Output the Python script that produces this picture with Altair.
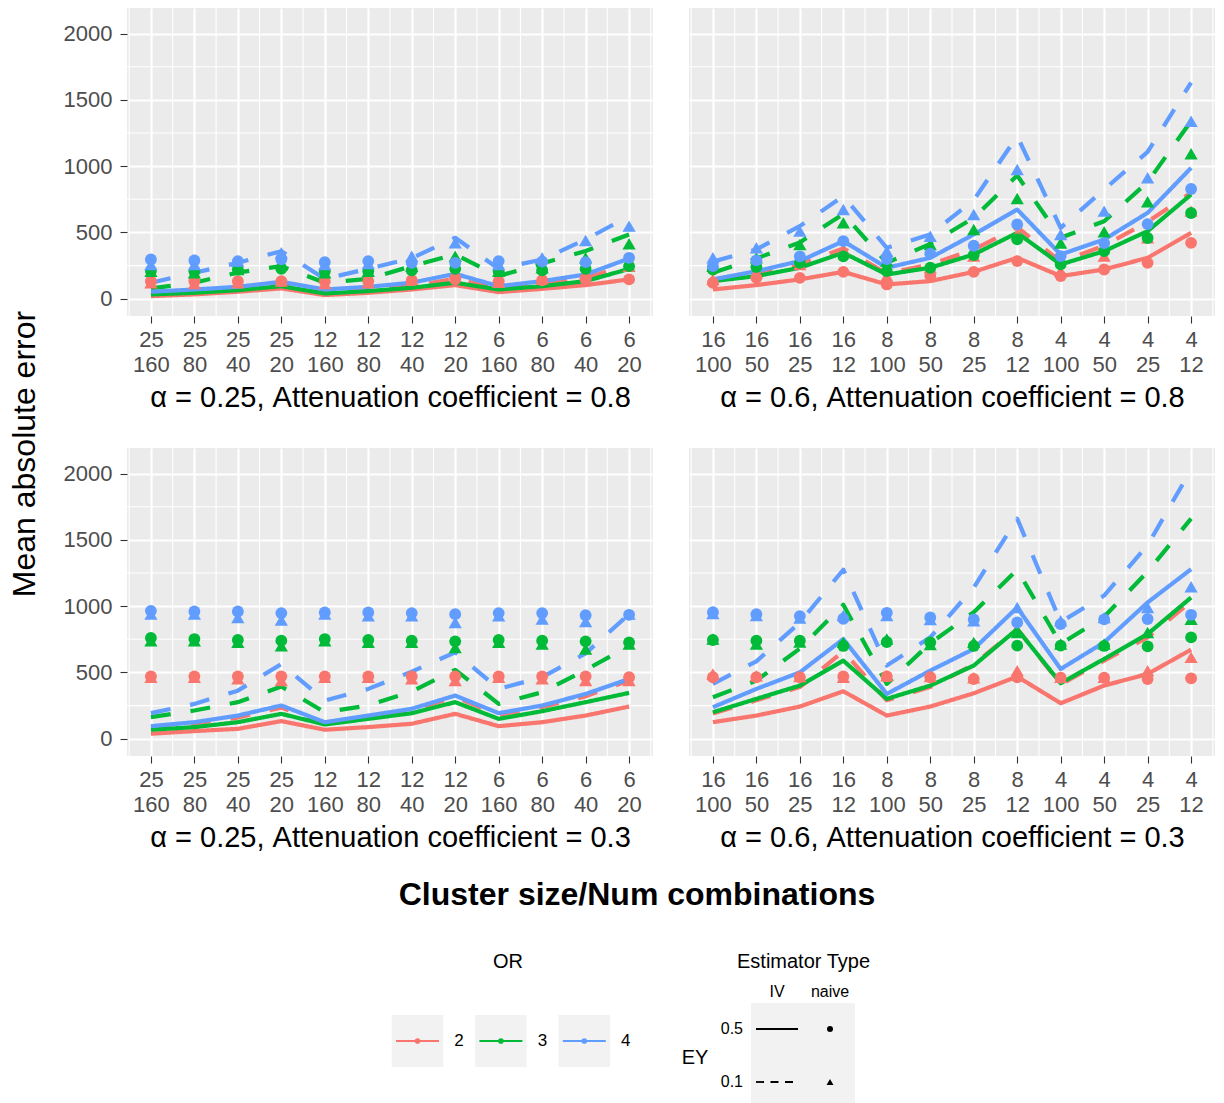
import json

import altair as alt
import pandas as pd

FONT = "Liberation Sans"

# x positions and their two-line labels (cluster size over number of combinations)
POSITIONS = list(range(1, 13))
CLUSTER_LEFT = ["25", "25", "25", "25", "12", "12", "12", "12", "6", "6", "6", "6"]
COMBOS_LEFT = ["160", "80", "40", "20", "160", "80", "40", "20", "160", "80", "40", "20"]
CLUSTER_RIGHT = ["16", "16", "16", "16", "8", "8", "8", "8", "4", "4", "4", "4"]
COMBOS_RIGHT = ["100", "50", "25", "12", "100", "50", "25", "12", "100", "50", "25", "12"]

OR_LEVELS = ["2", "3", "4"]
OR_COLORS = ["#F8766D", "#00BA38", "#619CFF"]
EY_LEVELS = ["0.5", "0.1"]

Y_BREAKS = [0, 500, 1000, 1500, 2000]
Y_MINOR = [250, 750, 1250, 1750]

# alpha = 0.25, attenuation coefficient = 0.8
A_IV_OR2_EY05 = [20, 33, 53, 78, 28, 45, 70, 103, 50, 75, 103, 146]
A_IV_OR2_EY01 = [40, 55, 75, 110, 45, 65, 95, 150, 75, 110, 155, 260]
A_IV_OR3_EY05 = [33, 45, 65, 95, 40, 58, 83, 121, 70, 95, 133, 225]
A_IV_OR3_EY01 = [78, 121, 198, 246, 121, 150, 246, 334, 171, 266, 360, 485]
A_IV_OR4_EY05 = [53, 70, 90, 128, 70, 90, 121, 188, 95, 133, 183, 304]
A_IV_OR4_EY01 = [121, 196, 271, 359, 150, 226, 306, 460, 226, 296, 447, 623]
A_NV_OR2_EY05 = [133, 133, 133, 133, 133, 133, 140, 146, 133, 140, 146, 146]
A_NV_OR2_EY01 = [121, 115, 121, 133, 115, 121, 146, 196, 125, 150, 196, 246]
A_NV_OR3_EY05 = [210, 208, 221, 225, 208, 208, 215, 225, 208, 215, 225, 246]
A_NV_OR3_EY01 = [208, 196, 221, 271, 196, 208, 246, 321, 208, 234, 309, 415]
A_NV_OR4_EY05 = [296, 289, 284, 297, 276, 284, 271, 271, 284, 280, 276, 309]
A_NV_OR4_EY01 = [259, 259, 284, 347, 259, 265, 321, 422, 259, 309, 440, 548]

# alpha = 0.6, attenuation coefficient = 0.8
B_IV_OR2_EY05 = [70, 103, 146, 203, 108, 133, 203, 309, 171, 221, 309, 497]
B_IV_OR2_EY01 = [145, 190, 260, 380, 190, 260, 370, 540, 280, 400, 580, 800]
B_IV_OR3_EY05 = [133, 171, 234, 347, 183, 234, 334, 497, 259, 359, 510, 786]
B_IV_OR3_EY01 = [196, 304, 425, 640, 271, 414, 610, 930, 460, 585, 880, 1340]
B_IV_OR4_EY05 = [146, 208, 284, 435, 234, 309, 485, 673, 334, 447, 648, 987]
B_IV_OR4_EY01 = [280, 372, 548, 774, 384, 485, 744, 1226, 535, 824, 1108, 1630]
B_NV_OR2_EY05 = [121, 158, 158, 203, 108, 171, 203, 284, 171, 221, 271, 422]
B_NV_OR2_EY01 = [146, 196, 259, 372, 171, 234, 322, 485, 208, 322, 460, 661]
B_NV_OR3_EY05 = [221, 240, 271, 320, 208, 234, 330, 448, 259, 359, 458, 647]
B_NV_OR3_EY01 = [246, 309, 410, 573, 284, 410, 522, 756, 420, 505, 731, 1093]
B_NV_OR4_EY05 = [246, 290, 320, 435, 300, 340, 400, 561, 322, 420, 563, 828]
B_NV_OR4_EY01 = [309, 384, 510, 673, 359, 472, 636, 975, 485, 661, 912, 1339]

# alpha = 0.25, attenuation coefficient = 0.3
C_IV_OR2_EY05 = [38, 58, 75, 133, 68, 88, 113, 188, 95, 125, 175, 243]
C_IV_OR2_EY01 = [85, 115, 160, 235, 115, 165, 215, 315, 180, 240, 320, 440]
C_IV_OR3_EY05 = [68, 88, 125, 188, 108, 150, 193, 276, 150, 208, 276, 346]
C_IV_OR3_EY01 = [163, 213, 276, 394, 200, 251, 356, 520, 263, 351, 519, 700]
C_IV_OR4_EY05 = [95, 125, 175, 251, 125, 175, 226, 326, 193, 251, 338, 451]
C_IV_OR4_EY01 = [193, 263, 363, 564, 288, 376, 506, 652, 376, 464, 644, 940]
C_NV_OR2_EY05 = [471, 471, 471, 471, 471, 471, 471, 471, 471, 471, 471, 464]
C_NV_OR2_EY01 = [464, 464, 452, 439, 464, 464, 452, 439, 464, 452, 439, 439]
C_NV_OR3_EY05 = [760, 752, 745, 740, 752, 745, 740, 735, 745, 740, 735, 727]
C_NV_OR3_EY01 = [740, 740, 727, 702, 740, 727, 727, 689, 727, 714, 677, 714]
C_NV_OR4_EY05 = [965, 960, 960, 948, 953, 953, 948, 940, 948, 948, 932, 935]
C_NV_OR4_EY01 = [940, 940, 915, 895, 940, 928, 928, 877, 928, 903, 885, 940]

# alpha = 0.6, attenuation coefficient = 0.3
D_IV_OR2_EY05 = [125, 175, 243, 358, 175, 243, 343, 469, 268, 401, 489, 672]
D_IV_OR2_EY01 = [190, 290, 390, 660, 290, 390, 560, 830, 410, 590, 765, 1035]
D_IV_OR3_EY05 = [200, 301, 401, 589, 301, 401, 552, 827, 419, 602, 790, 1065]
D_IV_OR3_EY01 = [313, 439, 680, 1010, 414, 720, 955, 1275, 715, 920, 1260, 1660]
D_IV_OR4_EY05 = [238, 376, 501, 752, 338, 514, 677, 990, 526, 727, 1028, 1279]
D_IV_OR4_EY01 = [414, 584, 877, 1275, 552, 765, 1140, 1660, 880, 1080, 1460, 2030]
D_NV_OR2_EY05 = [464, 464, 464, 470, 470, 464, 451, 464, 460, 460, 451, 456]
D_NV_OR2_EY01 = [489, 476, 470, 464, 476, 470, 460, 514, 464, 464, 514, 614]
D_NV_OR3_EY05 = [745, 740, 740, 700, 730, 727, 700, 702, 702, 700, 697, 765]
D_NV_OR3_EY01 = [752, 715, 730, 727, 752, 710, 727, 802, 715, 715, 802, 902]
D_NV_OR4_EY05 = [955, 940, 925, 905, 950, 915, 900, 877, 865, 900, 903, 935]
D_NV_OR4_EY01 = [945, 930, 910, 930, 930, 900, 890, 990, 890, 915, 990, 1146]

TITLE_A = "α = 0.25, Attenuation coefficient = 0.8"
TITLE_B = "α = 0.6, Attenuation coefficient = 0.8"
TITLE_C = "α = 0.25, Attenuation coefficient = 0.3"
TITLE_D = "α = 0.6, Attenuation coefficient = 0.3"

PANEL_W, PANEL_H = 526, 308
X_DOMAIN = [0.45, 12.55]
Y_DOMAIN = [-130, 2193]
X_MINOR = [p - 0.5 for p in POSITIONS] + [POSITIONS[-1] + 0.5]

COLOR = alt.Color("OR:N", scale=alt.Scale(domain=OR_LEVELS, range=OR_COLORS), legend=None)


def series_frame(groups):
    rows = []
    for k, (or_level, ey_level, values) in enumerate(groups):
        for p, v in zip(POSITIONS, values):
            rows.append({"pos": p, "mae": v, "OR": or_level, "EY": ey_level, "grp": k})
    return pd.DataFrame(rows)


def make_panel(iv_groups, naive_groups, clusters, combos, title, with_y_labels):
    label_lines = json.dumps([[c, n] for c, n in zip(clusters, combos)])
    x_scale = alt.Scale(domain=X_DOMAIN, nice=False, zero=False)
    y_scale = alt.Scale(domain=Y_DOMAIN, nice=False, zero=False)
    x_axis = alt.Axis(
        values=POSITIONS, labelExpr=f"{label_lines}[datum.value - 1]", title=title,
        grid=True, gridColor="white", gridWidth=2.2, domain=False,
        tickColor="#333333", tickSize=7, tickWidth=1.1,
        labelFont=FONT, labelFontSize=22, labelColor="#4D4D4D", labelLineHeight=25,
        labelPadding=6, labelAngle=0, labelOverlap=False, labelFlush=False, labelBaseline="top",
        titleFont=FONT, titleFontSize=29, titleFontWeight="normal", titleColor="black",
        titlePadding=8,
    )
    if with_y_labels:
        y_axis = alt.Axis(
            values=Y_BREAKS, format="d", title=None, grid=True, gridColor="white", gridWidth=2.2,
            domain=False, tickColor="#333333", tickSize=7, tickWidth=1.1,
            labelFont=FONT, labelFontSize=22, labelColor="#4D4D4D", labelPadding=8,
            labelOverlap=False, labelFlush=False,
        )
    else:
        y_axis = alt.Axis(
            values=Y_BREAKS, title=None, grid=True, gridColor="white", gridWidth=2.2,
            domain=False, ticks=False, labels=False,
        )
    x_enc = alt.X("pos:Q", scale=x_scale, axis=x_axis)
    y_enc = alt.Y("mae:Q", scale=y_scale, axis=y_axis)

    vminor = alt.Chart(pd.DataFrame({"pos": X_MINOR})).mark_rule(
        color="white", strokeWidth=1.1).encode(x=x_enc)
    hminor = alt.Chart(pd.DataFrame({"mae": Y_MINOR})).mark_rule(
        color="white", strokeWidth=1.1).encode(y=y_enc)

    lines = alt.Chart(series_frame(iv_groups)).mark_line(
        strokeWidth=4.2, strokeCap="butt", strokeJoin="round").encode(
        x=x_enc, y=y_enc, color=COLOR,
        strokeDash=alt.StrokeDash("EY:N", scale=alt.Scale(domain=EY_LEVELS, range=[[1, 0], [20, 20]]),
                                  legend=None),
        detail="grp:N",
    )
    points = alt.Chart(series_frame(naive_groups)).mark_point(filled=True, opacity=1).encode(
        x=x_enc, y=y_enc, color=COLOR,
        shape=alt.Shape("EY:N", scale=alt.Scale(domain=EY_LEVELS, range=["circle", "triangle-up"]),
                        legend=None),
        size=alt.Size("EY:N", scale=alt.Scale(domain=EY_LEVELS, range=[140, 175]), legend=None),
    )
    return alt.layer(vminor, hminor, lines, points).properties(
        width=PANEL_W, height=PANEL_H, view=alt.ViewBackground(fill="#EBEBEB", stroke=None))


def groups(prefix, kind):
    g = globals()
    out = []
    for o in OR_LEVELS:
        for ey, tag in (("0.5", "05"), ("0.1", "01")):
            out.append((o, ey, g[f"{prefix}_{kind}_OR{o}_EY{tag}"]))
    return out


panel_a = make_panel(groups("A", "IV"), groups("A", "NV"), CLUSTER_LEFT, COMBOS_LEFT, TITLE_A, True)
panel_b = make_panel(groups("B", "IV"), groups("B", "NV"), CLUSTER_RIGHT, COMBOS_RIGHT, TITLE_B, False)
panel_c = make_panel(groups("C", "IV"), groups("C", "NV"), CLUSTER_LEFT, COMBOS_LEFT, TITLE_C, True)
panel_d = make_panel(groups("D", "IV"), groups("D", "NV"), CLUSTER_RIGHT, COMBOS_RIGHT, TITLE_D, False)

# shared y-axis title, rotated
y_title = alt.Chart(pd.DataFrame({"label": ["Mean absolute error"]})).mark_text(
    angle=270, font=FONT, fontSize=32, color="black", align="center", baseline="middle").encode(
    x=alt.value(25), y=alt.value(446), text="label:N").properties(
    width=45, height=800, view=alt.ViewBackground(stroke=None))

# ---- bottom strip: x-axis title and the two legends ----
BOTTOM_W, BOTTOM_H = 1224, 243

x_title = alt.Chart(pd.DataFrame({"label": ["Cluster size/Num combinations"]})).mark_text(
    font=FONT, fontSize=32, fontWeight="bold", color="black", align="center", baseline="middle").encode(
    x=alt.value(637), y=alt.value(35), text="label:N")

KEY_X0, KEY_STEP, KEY_HALF = 417.5, 83.4, 25.8
KEY_Y0, KEY_Y1 = 155, 207
keys = pd.DataFrame({"OR": OR_LEVELS})
keys["cx"] = [KEY_X0 + i * KEY_STEP for i in range(len(OR_LEVELS))]
keys["kx1"] = keys["cx"] - KEY_HALF
keys["kx2"] = keys["cx"] + KEY_HALF
keys["lx1"] = keys["cx"] - 21.5
keys["lx2"] = keys["cx"] + 21.5
keys["tx"] = keys["cx"] + KEY_HALF + 11
keys["ky1"] = KEY_Y0
keys["ky2"] = KEY_Y1
keys["ky"] = (KEY_Y0 + KEY_Y1) / 2

key_box = alt.Chart(keys).mark_rect(fill="#F2F2F2").encode(
    x=alt.X("kx1:Q", scale=None), x2="kx2:Q", y=alt.Y("ky1:Q", scale=None), y2="ky2:Q")
key_line = alt.Chart(keys).mark_rule(strokeWidth=1.8).encode(
    x=alt.X("lx1:Q", scale=None), x2="lx2:Q", y=alt.Y("ky:Q", scale=None), color=COLOR)
key_dot = alt.Chart(keys).mark_point(filled=True, opacity=1, size=32, shape="circle").encode(
    x=alt.X("cx:Q", scale=None), y=alt.Y("ky:Q", scale=None), color=COLOR)
key_text = alt.Chart(keys).mark_text(
    font=FONT, fontSize=17, color="black", align="left", baseline="middle").encode(
    x=alt.X("tx:Q", scale=None), y=alt.Y("ky:Q", scale=None), text="OR:N")

legend_titles = alt.Chart(pd.DataFrame({
    "label": ["OR", "Estimator Type"], "tx": [508, 803.5], "ty": [102, 102]})).mark_text(
    font=FONT, fontSize=20, color="black", align="center", baseline="middle").encode(
    x=alt.X("tx:Q", scale=None), y=alt.Y("ty:Q", scale=None), text="label:N")

# Estimator Type legend: columns IV (line) and naive (point), rows EY levels
EST_COLS = ["IV", "naive"]
COL_X = [777, 830]
ROW_Y = [169, 222]
est_cols = pd.DataFrame({"label": EST_COLS, "tx": COL_X, "ty": [132, 132]})
est_rows = pd.DataFrame({"EY": EY_LEVELS, "ty": ROW_Y})
est_rows["tx"] = 743
est_rows["lx1"] = 756
est_rows["lx2"] = 798
est_rows["px"] = COL_X[1]

est_box = alt.Chart(pd.DataFrame({"bx1": [751], "bx2": [855], "by1": [143], "by2": [BOTTOM_H]})).mark_rect(
    fill="#F2F2F2").encode(
    x=alt.X("bx1:Q", scale=None), x2="bx2:Q", y=alt.Y("by1:Q", scale=None), y2="by2:Q")
est_col_text = alt.Chart(est_cols).mark_text(
    font=FONT, fontSize=16, color="black", align="center", baseline="middle").encode(
    x=alt.X("tx:Q", scale=None), y=alt.Y("ty:Q", scale=None), text="label:N")
est_row_text = alt.Chart(est_rows).mark_text(
    font=FONT, fontSize=16, color="black", align="right", baseline="middle").encode(
    x=alt.X("tx:Q", scale=None), y=alt.Y("ty:Q", scale=None), text="EY:N")
ey_title = alt.Chart(pd.DataFrame({"label": ["EY"]})).mark_text(
    font=FONT, fontSize=20, color="black", align="center", baseline="middle").encode(
    x=alt.value(695), y=alt.value(198), text="label:N")
est_solid = alt.Chart(est_rows[est_rows["EY"] == "0.5"]).mark_rule(
    strokeWidth=1.8, color="black").encode(
    x=alt.X("lx1:Q", scale=None), x2="lx2:Q", y=alt.Y("ty:Q", scale=None))
est_dashed = alt.Chart(est_rows[est_rows["EY"] == "0.1"]).mark_rule(
    strokeWidth=1.8, color="black", strokeDash=[8, 6.5]).encode(
    x=alt.X("lx1:Q", scale=None), x2="lx2:Q", y=alt.Y("ty:Q", scale=None))
est_circle = alt.Chart(est_rows[est_rows["EY"] == "0.5"]).mark_point(
    filled=True, opacity=1, color="black", shape="circle", size=36).encode(
    x=alt.X("px:Q", scale=None), y=alt.Y("ty:Q", scale=None))
est_triangle = alt.Chart(est_rows[est_rows["EY"] == "0.1"]).mark_point(
    filled=True, opacity=1, color="black", shape="triangle-up", size=48).encode(
    x=alt.X("px:Q", scale=None), y=alt.Y("ty:Q", scale=None))

bottom = alt.layer(
    x_title, key_box, key_line, key_dot, key_text, legend_titles,
    est_box, est_col_text, est_row_text, ey_title, est_solid, est_dashed, est_circle, est_triangle,
).properties(width=BOTTOM_W, height=BOTTOM_H, view=alt.ViewBackground(stroke=None))

row_top = alt.hconcat(panel_a, panel_b, spacing=34)
row_bottom = alt.hconcat(panel_c, panel_d, spacing=34)
panels = alt.vconcat(row_top, row_bottom, spacing=35)
body = alt.hconcat(y_title, panels, spacing=18)

chart = alt.vconcat(body, bottom, spacing=8).properties(
    padding={"top": 7, "left": 0, "right": 0, "bottom": 0}, background="white",
).configure_view(stroke=None)

chart.save("out.html", embed_options={"renderer": "svg", "actions": False})
